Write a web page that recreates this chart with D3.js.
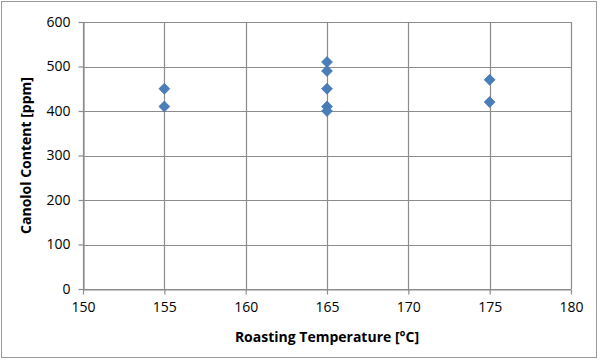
<!DOCTYPE html>
<html><head><meta charset="utf-8">
<script src="https://cdn.jsdelivr.net/npm/d3@7/dist/d3.min.js"></script>
<style>body{margin:0;background:#fff}svg{display:block}</style>
</head><body>
<svg id="c" width="600" height="360"></svg>
<script>
const temps = [155, 155, 165, 165, 165, 165, 165, 175, 175];
const canolol = [450, 410, 510, 490, 450, 410, 400, 470, 420];
const xTicks = [150, 155, 160, 165, 170, 175, 180];
const yTicks = [0, 100, 200, 300, 400, 500, 600];
const xTitle = "Roasting Temperature [°C]";
const yTitle = "Canolol Content [ppm]";

const svg = d3.select("#c");
const font = "'Open Sans', 'Liberation Sans', sans-serif";
const L = 83, R = 571, T = 22, B = 289;
const x = d3.scaleLinear().domain([150, 180]).range([L, R]);
const y = d3.scaleLinear().domain([0, 600]).range([B, T]);
const grid = "#8c8c8c";

svg.append("rect").attr("x", 1.5).attr("y", 1.5).attr("width", 595).attr("height", 356)
  .attr("fill", "#fff").attr("stroke", "#9a9a9a").attr("stroke-width", 1);

// grid
svg.append("g").selectAll("line").data(yTicks).join("line")
  .attr("x1", L).attr("x2", R).attr("y1", d => Math.round(y(d)) + 0.5).attr("y2", d => Math.round(y(d)) + 0.5)
  .attr("stroke", grid).attr("stroke-width", 1.2);
svg.append("g").selectAll("line").data(xTicks).join("line")
  .attr("y1", T).attr("y2", B).attr("x1", d => Math.round(x(d)) + 0.5).attr("x2", d => Math.round(x(d)) + 0.5)
  .attr("stroke", grid).attr("stroke-width", 1.2);

// axes
const xa = svg.append("g").attr("transform", `translate(0,${Math.round(B) + 0.5})`)
  .call(d3.axisBottom(x).tickValues(xTicks).tickSize(5).tickPadding(8).tickSizeOuter(0));
const ya = svg.append("g").attr("transform", `translate(${Math.round(L) + 0.5},0)`)
  .call(d3.axisLeft(y).tickValues(yTicks).tickSize(5).tickPadding(8).tickSizeOuter(0));
[xa, ya].forEach(a => {
  a.select(".domain").attr("stroke", grid).attr("stroke-width", 1.2);
  a.selectAll(".tick line").attr("stroke", grid).attr("stroke-width", 1.2);
  a.selectAll(".tick text").attr("fill", "#000").style("font-family", font).style("font-size", "14px");
});

// points
svg.append("g").selectAll("path").data(temps.map((t, i) => [t, canolol[i]])).join("path")
  .attr("d", d3.symbol().type(d3.symbolSquare).size(60))
  .attr("transform", d => `translate(${x(d[0])},${y(d[1])}) rotate(45)`)
  .attr("fill", "#4a7ebb").attr("stroke", "#3c6ea8").attr("stroke-width", 0.6);

svg.append("text").attr("x", 327).attr("y", 342).attr("text-anchor", "middle")
  .style("font-family", font).style("font-size", "14px").style("font-weight", "bold").text(xTitle);
svg.append("text").attr("transform", `translate(31,${(T + B) / 2}) rotate(-90)`).attr("text-anchor", "middle")
  .style("font-family", font).style("font-size", "14px").style("font-weight", "bold").text(yTitle);
</script>
</body></html>
